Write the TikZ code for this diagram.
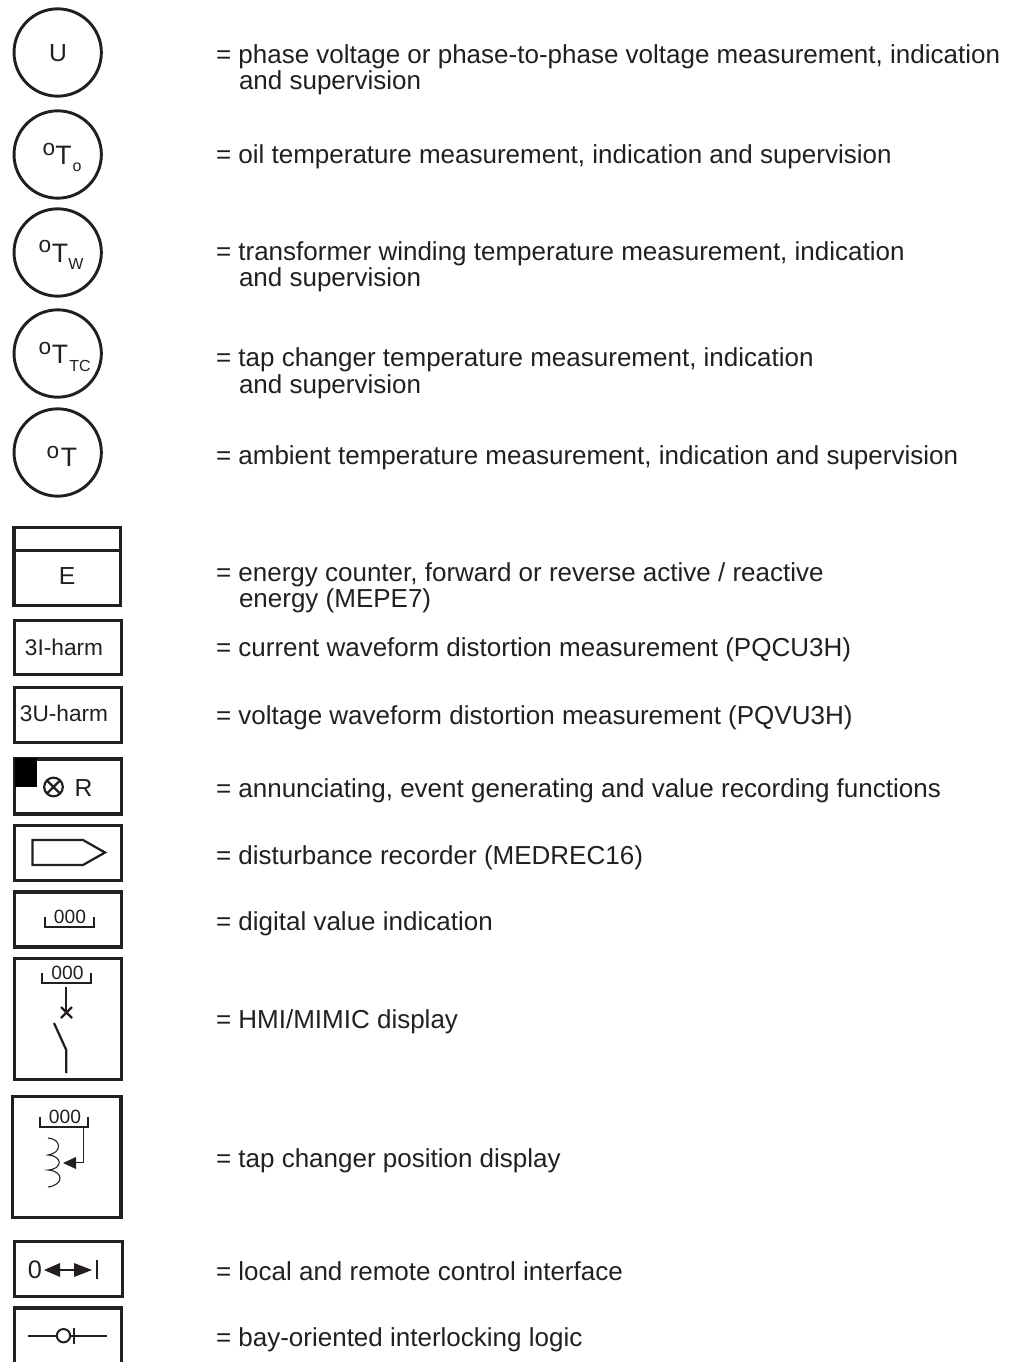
\documentclass[tikz,border=0pt]{standalone}
\usepackage{fontspec}
\setmainfont{Liberation Sans}
\definecolor{ink}{HTML}{231F20}
\newcommand{\lbl}{\fontsize{19.5}{21}\selectfont}
\newcommand{\sym}{\fontsize{17}{18}\selectfont}
\tikzset{
  x=0.75pt,y=-0.75pt,
  every node/.style={inner sep=0pt,outer sep=0pt,text=ink},
  desc/.style={anchor=base west,font=\lbl},
  symtext/.style={anchor=base,font=\sym},
  capital/.style={anchor=base,font=\fontsize{18.5}{20}\selectfont},
  digits/.style={anchor=base,font=\fontsize{14.4}{16}\selectfont},
  small/.style={anchor=base,font=\fontsize{12}{13}\selectfont},
  degree/.style={anchor=base,font=\fontsize{17}{18}\selectfont},
  big/.style={anchor=base,font=\fontsize{20}{21}\selectfont},
  rnd/.style={draw=ink,line width=2.2pt,circle,minimum size=65.5pt},
  sq/.style={draw=ink,line width=2.4pt,rectangle,anchor=north west,minimum width=80.25pt,minimum height=41.25pt},
  thin line/.style={draw=ink,line width=1.7pt},
  hair/.style={draw=ink,line width=0.8pt},
}
\newcommand{\bracket}[3]{% x-left, y-bottom, x-right
  \draw[draw=ink,line width=1.5pt] (#1,#2-10) -- (#1,#2) -- (#3,#2) -- (#3,#2-10);
}
\begin{document}
\begin{tikzpicture}
\useasboundingbox (0,0) rectangle (1014,1362);
% circles
\node[rnd] (c1) at (57.7,52.5) {};
\node[rnd] (c2) at (57.7,154.5) {};
\node[rnd] (c3) at (57.7,252.5) {};
\node[rnd] (c4) at (57.7,353.5) {};
\node[rnd] (c5) at (57.7,452.5) {};
\node[capital] (tu) at (58,62) {U};
\node[degree] (d2) at (49,156) {o};
\node[big] (t2) at (63.5,165) {T};
\node[small] (s2) at (77,172) {o};
\node[degree] (d3) at (45,253) {o};
\node[big] (t3) at (60,263) {T};
\node[small] (s3) at (76,270) {W};
\node[degree] (d4) at (45,354) {o};
\node[big] (t4) at (60,363) {T};
\node[small] (s4) at (80,371) {TC};
\node[degree] (d5) at (53,458) {o};
\node[big] (t5) at (69,466) {T};
% boxes
\node[sq,minimum width=80pt,minimum height=58.5pt] (bE) at (14,527.5) {};
\draw[draw=ink,line width=2.4pt] (bE.west |- 0,550.7) -- (bE.east |- 0,550.7);
\node[capital] (tE) at (67,584) {E};
\node[sq,minimum height=40.5pt] (bI) at (14.2,620.5) {};
\node[symtext] (tI) at (64,655) {3I-harm};
\node[sq] (bU) at (14.2,687.5) {};
\node[symtext] (tU) at (64,721) {3U-harm};
\node[sq] (bR) at (14.2,759) {};
\fill[black] (15,758) rectangle (37,787);
\node[draw=ink,line width=1.6pt,circle,minimum size=14pt] (x0) at (53.5,787) {};
\draw[ink,line width=1.6pt] (x0.north west) -- (x0.south east) (x0.north east) -- (x0.south west);
\node[capital] (tR) at (83.5,796) {R};
\node[sq] (bD) at (14.2,825.5) {};
\draw[thin line] (32.5,840) -- (83,840) -- (105,852.5) -- (83,865) -- (32.5,865) -- cycle;
\node[sq] (bV) at (14.2,892) {};
\node[digits] (tV) at (70,923.5) {000};
\bracket{45}{927}{94}
\node[sq,minimum height=90.75pt] (bH) at (14.2,958.5) {};
\node[digits] (tH) at (67.5,979) {000};
\bracket{42}{983}{91}
\draw[thin line] (66.3,987) -- (66.3,1013);
\draw[thin line] (61,1007) -- (72,1018) (72,1007) -- (61,1018);
\draw[thin line] (54,1023) -- (66.3,1050) -- (66.3,1073);
\node[sq,minimum width=81.4pt,minimum height=90.75pt] (bT) at (12.5,1096.5) {};
\node[digits] (tT) at (65,1123) {000};
\bracket{39.5}{1127}{88}
\draw[hair] (48,1138) .. controls (62,1139) and (62,1153) .. (48,1155)
  .. controls (63,1156) and (63,1169) .. (48,1170)
  .. controls (64,1171) and (64,1185) .. (48,1187);
\draw[draw=ink,line width=1.1pt] (83.5,1127) -- (83.5,1162.5) -- (72,1162.5);
\fill[ink] (63,1163) -- (76,1157) -- (76,1169) -- cycle;
\node[sq,minimum width=81pt] (bL) at (14.2,1241.5) {};
\node[anchor=base,font=\fontsize{19}{20}\selectfont] (t0) at (35,1278) {0};
\fill[ink] (44,1270) -- (60,1263) -- (60,1277) -- cycle;
\fill[ink] (92,1270) -- (74,1263) -- (74,1277) -- cycle;
\draw[draw=ink,line width=1.3pt] (58,1270) -- (76,1270);
\draw[draw=ink,line width=1.4pt] (96.7,1260) -- (96.7,1279);
\draw[draw=ink,line width=2.4pt] (14.2,1362) -- (14.2,1308) -- (121.2,1308) -- (121.2,1362);
\node[draw=ink,line width=1.5pt,circle,minimum size=10pt] (ob) at (63.5,1335.7) {};
\draw[thin line] (28,1335.7) -- (ob.west);
\draw[thin line] (ob.east) -- (107,1335.7);
\draw[thin line] (74,1328) -- (74,1344);
% descriptions
\node[desc] (l1) at (216,64) {= phase voltage or phase-to-phase voltage measurement, indication};
\node[desc] (l1b) at (239,90) {and supervision};
\node[desc] (l2) at (216,164) {= oil temperature measurement, indication and supervision};
\node[desc] (l3) at (216,261) {= transformer winding temperature measurement, indication};
\node[desc] (l3b) at (239,287) {and supervision};
\node[desc] (l4) at (216,366) {= tap changer temperature measurement, indication};
\node[desc] (l4b) at (239,393) {and supervision};
\node[desc] (l5) at (216,464) {= ambient temperature measurement, indication and supervision};
\node[desc] (l6) at (216,581) {= energy counter, forward or reverse active / reactive};
\node[desc] (l6b) at (239,607) {energy (MEPE7)};
\node[desc] (l7) at (216,656) {= current waveform distortion measurement (PQCU3H)};
\node[desc] (l8) at (216,724) {= voltage waveform distortion measurement (PQVU3H)};
\node[desc] (l9) at (216,797) {= annunciating, event generating and value recording functions};
\node[desc] (l10) at (216,864) {= disturbance recorder (MEDREC16)};
\node[desc] (l11) at (216,930) {= digital value indication};
\node[desc] (l12) at (216,1028) {= HMI/MIMIC display};
\node[desc] (l13) at (216,1167) {= tap changer position display};
\node[desc] (l14) at (216,1280) {= local and remote control interface};
\node[desc] (l15) at (216,1346) {= bay-oriented interlocking logic};
\end{tikzpicture}
\end{document}
